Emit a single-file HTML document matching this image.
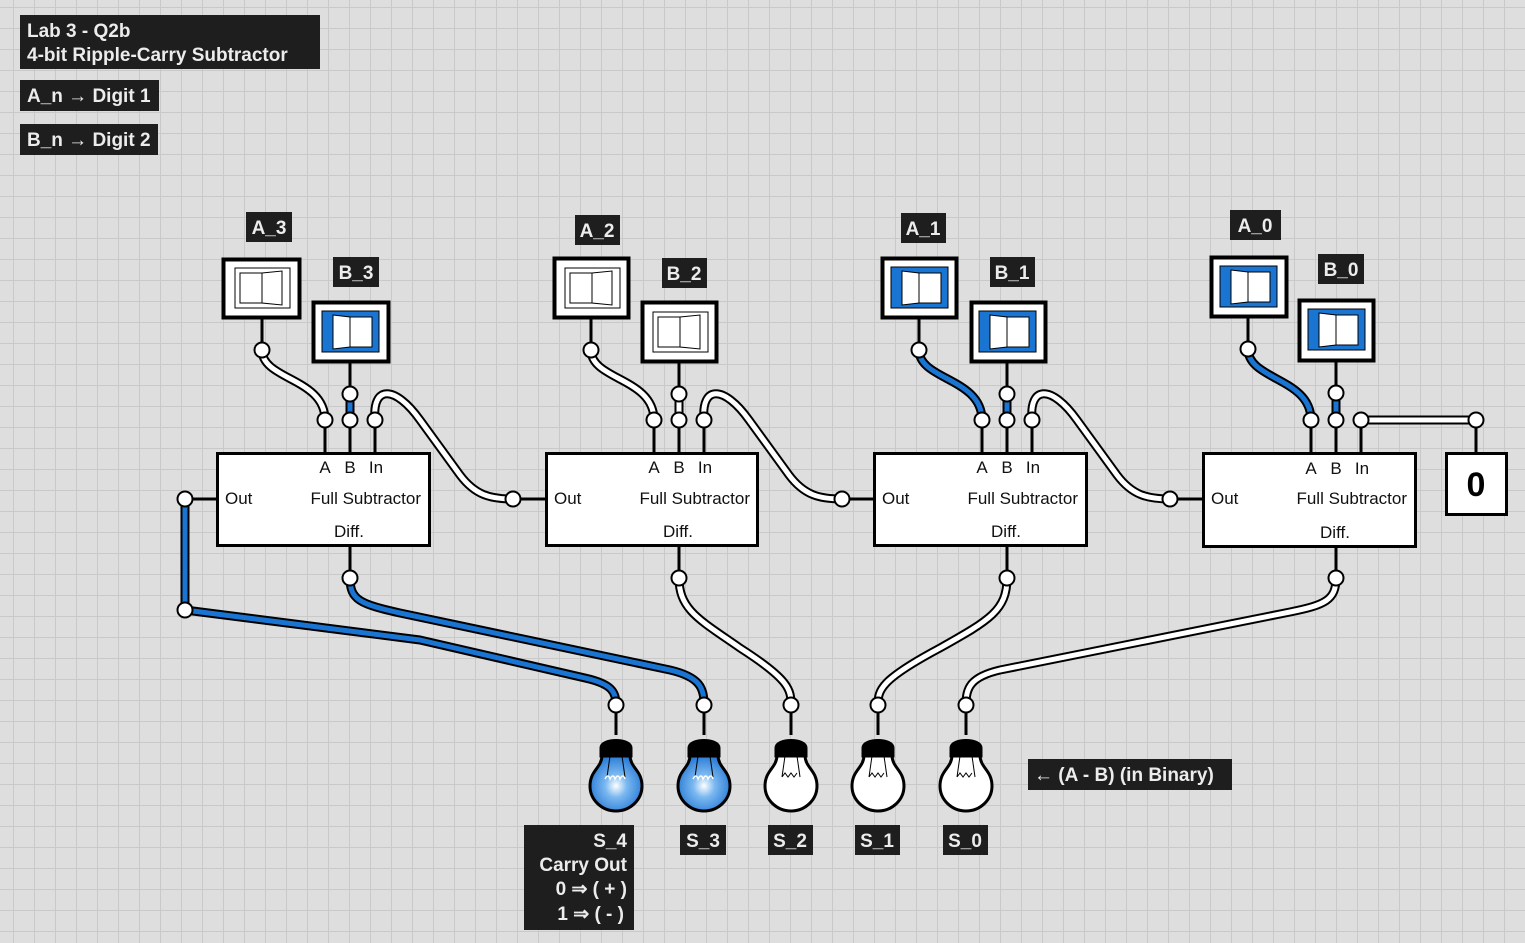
<!DOCTYPE html>
<html><head><meta charset="utf-8"><style>
html,body{margin:0;padding:0;background:#dedede;}
svg{display:block}
.lbl{font-family:"Liberation Sans",sans-serif;font-weight:bold;font-size:19px;fill:#ececec}
.bt{font-family:"Liberation Sans",sans-serif;font-size:17px;fill:#111}
</style></head><body>
<svg width="1525" height="943" viewBox="0 0 1525 943" xmlns="http://www.w3.org/2000/svg">
<defs>
<pattern id="g" x="13" y="7" width="21" height="21" patternUnits="userSpaceOnUse">
<path d="M0.5 0V21M0 0.5H21" stroke="#c9c9c9" stroke-width="1" fill="none"/>
</pattern>
<radialGradient id="bl" cx="0.5" cy="0.55" r="0.6">
<stop offset="0" stop-color="#ffffff"/><stop offset="0.35" stop-color="#7ab8f0"/><stop offset="1" stop-color="#1a6fd0"/>
</radialGradient>
</defs>
<rect width="1525" height="943" fill="#dedede"/>
<rect width="1525" height="943" fill="url(#g)"/>

<!-- top labels -->
<rect x="20" y="15" width="300" height="54" fill="#1e1e1e"/>
<text class="lbl" x="27" y="37">Lab 3 - Q2b</text>
<text class="lbl" x="27" y="61">4-bit Ripple-Carry Subtractor</text>
<rect x="20" y="80" width="139" height="31" fill="#1e1e1e"/>
<text class="lbl" x="27" y="102">A_n → Digit 1</text>
<rect x="20" y="124" width="138" height="31" fill="#1e1e1e"/>
<text class="lbl" x="27" y="146">B_n → Digit 2</text>

<!-- wires: outline then fill -->
<g fill="none" stroke-linecap="round" stroke-linejoin="round">
<g stroke="#000" stroke-width="9">
<path d="M262,350 C262,380 325,378 325,420"/>
<path d="M591,350 C591,380 654,378 654,420"/>
<path d="M919,350 C919,380 982,378 982,420"/>
<path d="M1248,349 C1248,380 1311,378 1311,420"/>
<path d="M350,394 V420"/><path d="M679,394 V420"/><path d="M1007,394 V420"/><path d="M1336,393 V420"/>
<path d="M375,420 C372,385 395,385 420,420 L460,475 C475,495 490,499 513,499"/>
<path d="M704,420 C701,385 724,385 749,420 L789,475 C804,495 819,499 842,499"/>
<path d="M1032,420 C1029,385 1052,385 1077,420 L1117,475 C1132,495 1147,499 1170,499"/>
<path d="M1361,420 H1476"/>
<path d="M185,499 V610 L420,640 L585,678 C612,684 616,692 616,705"/>
<path d="M350,578 C350,600 360,604 400,613 L670,670 C700,677 704,688 704,705"/>
<path d="M679,578 C679,610 700,620 740,648 C790,680 791,690 791,705"/>
<path d="M1007,578 C1007,610 990,620 940,648 C880,680 878,690 878,705"/>
<path d="M1336,578 C1336,600 1325,605 1290,612 L1000,670 C970,677 966,688 966,705"/>
</g>
<g stroke-width="5">
<path stroke="#fff" d="M262,350 C262,380 325,378 325,420"/>
<path stroke="#fff" d="M591,350 C591,380 654,378 654,420"/>
<path stroke="#1a74d2" d="M919,350 C919,380 982,378 982,420"/>
<path stroke="#1a74d2" d="M1248,349 C1248,380 1311,378 1311,420"/>
<path stroke="#1a74d2" d="M350,394 V420"/><path stroke="#fff" d="M679,394 V420"/><path stroke="#1a74d2" d="M1007,394 V420"/><path stroke="#1a74d2" d="M1336,393 V420"/>
<path stroke="#fff" d="M375,420 C372,385 395,385 420,420 L460,475 C475,495 490,499 513,499"/>
<path stroke="#fff" d="M704,420 C701,385 724,385 749,420 L789,475 C804,495 819,499 842,499"/>
<path stroke="#fff" d="M1032,420 C1029,385 1052,385 1077,420 L1117,475 C1132,495 1147,499 1170,499"/>
<path stroke="#fff" d="M1361,420 H1476"/>
<path stroke="#1a74d2" d="M185,499 V610 L420,640 L585,678 C612,684 616,692 616,705"/>
<path stroke="#1a74d2" d="M350,578 C350,600 360,604 400,613 L670,670 C700,677 704,688 704,705"/>
<path stroke="#fff" d="M679,578 C679,610 700,620 740,648 C790,680 791,690 791,705"/>
<path stroke="#fff" d="M1007,578 C1007,610 990,620 940,648 C880,680 878,690 878,705"/>
<path stroke="#fff" d="M1336,578 C1336,600 1325,605 1290,612 L1000,670 C970,677 966,688 966,705"/>
</g>
</g>

<!-- subtractor blocks -->
<g id="blocks" stroke="#000" stroke-width="3">
<path d="M262,318V350M350,362V394M591,319V350M679,362V394M919,318V350M1007,362V394M1248,317V349M1336,361V393"/>
<path d="M1476,420V453"/>
<path d="M325,420V453M350,420V453M375,420V453M185,499H217M350,546V578"/>
<path d="M654,420V453M679,420V453M704,420V453M513,499H546M679,546V578"/>
<path d="M982,420V453M1007,420V453M1032,420V453M842,499H874M1007,546V578"/>
<path d="M1311,420V453M1336,420V453M1361,420V453M1170,499H1203M1336,547V578"/>
<path d="M616,705V735M704,705V735M791,705V735M878,705V735M966,705V735"/>
<rect x="217.5" y="453.5" width="212" height="92" fill="#fff"/>
<rect x="546.5" y="453.5" width="211" height="92" fill="#fff"/>
<rect x="874.5" y="453.5" width="212" height="92" fill="#fff"/>
<rect x="1203.5" y="453.5" width="212" height="93" fill="#fff"/>
<rect x="1446.5" y="453.5" width="60" height="61" fill="#fff"/>
</g>
<text x="1476" y="496" text-anchor="middle" font-family="Liberation Sans,sans-serif" font-weight="bold" font-size="34" fill="#000">0</text>

<g class="bt">
<text x="325" y="473" text-anchor="middle">A</text><text x="350" y="473" text-anchor="middle">B</text><text x="376" y="473" text-anchor="middle">In</text>
<text x="225" y="504">Out</text><text x="421" y="504" text-anchor="end">Full Subtractor</text><text x="349" y="537" text-anchor="middle">Diff.</text>
<text x="654" y="473" text-anchor="middle">A</text><text x="679" y="473" text-anchor="middle">B</text><text x="705" y="473" text-anchor="middle">In</text>
<text x="554" y="504">Out</text><text x="750" y="504" text-anchor="end">Full Subtractor</text><text x="678" y="537" text-anchor="middle">Diff.</text>
<text x="982" y="473" text-anchor="middle">A</text><text x="1007" y="473" text-anchor="middle">B</text><text x="1033" y="473" text-anchor="middle">In</text>
<text x="882" y="504">Out</text><text x="1078" y="504" text-anchor="end">Full Subtractor</text><text x="1006" y="537" text-anchor="middle">Diff.</text>
<text x="1311" y="474" text-anchor="middle">A</text><text x="1336" y="474" text-anchor="middle">B</text><text x="1362" y="474" text-anchor="middle">In</text>
<text x="1211" y="504">Out</text><text x="1407" y="504" text-anchor="end">Full Subtractor</text><text x="1335" y="538" text-anchor="middle">Diff.</text>
</g>

<!-- pin circles -->
<g fill="#fff" stroke="#000" stroke-width="2">
<circle cx="262" cy="350" r="7.5"/><circle cx="350" cy="394" r="7.5"/>
<circle cx="591" cy="350" r="7.5"/><circle cx="679" cy="394" r="7.5"/>
<circle cx="919" cy="350" r="7.5"/><circle cx="1007" cy="394" r="7.5"/>
<circle cx="1248" cy="349" r="7.5"/><circle cx="1336" cy="393" r="7.5"/>
<circle cx="325" cy="420" r="7.5"/><circle cx="350" cy="420" r="7.5"/><circle cx="375" cy="420" r="7.5"/>
<circle cx="654" cy="420" r="7.5"/><circle cx="679" cy="420" r="7.5"/><circle cx="704" cy="420" r="7.5"/>
<circle cx="982" cy="420" r="7.5"/><circle cx="1007" cy="420" r="7.5"/><circle cx="1032" cy="420" r="7.5"/>
<circle cx="1311" cy="420" r="7.5"/><circle cx="1336" cy="420" r="7.5"/><circle cx="1361" cy="420" r="7.5"/>
<circle cx="1476" cy="420" r="7.5"/>
<circle cx="185" cy="499" r="7.5"/><circle cx="513" cy="499" r="7.5"/><circle cx="842" cy="499" r="7.5"/><circle cx="1170" cy="499" r="7.5"/>
<circle cx="185" cy="610" r="7.5"/>
<circle cx="350" cy="578" r="7.5"/><circle cx="679" cy="578" r="7.5"/><circle cx="1007" cy="578" r="7.5"/><circle cx="1336" cy="578" r="7.5"/>
<circle cx="616" cy="705" r="7.5"/><circle cx="704" cy="705" r="7.5"/><circle cx="791" cy="705" r="7.5"/><circle cx="878" cy="705" r="7.5"/><circle cx="966" cy="705" r="7.5"/>
</g>

<!-- switches -->
<g stroke="#000">
<!-- off: A_3 -->
<rect x="223.5" y="259.5" width="76" height="58" fill="#fff" stroke-width="4"/>
<rect x="235" y="268" width="55" height="40" fill="#fff" stroke-width="1"/>
<path d="M240,273H262V303H240Z M262,273L282,271V305L262,303Z" fill="#fff" stroke-width="1"/>
<!-- off: A_2 -->
<rect x="554.5" y="258.5" width="74" height="59" fill="#fff" stroke-width="4"/>
<rect x="565" y="268" width="55" height="40" fill="#fff" stroke-width="1"/>
<path d="M570,273H592V303H570Z M592,273L612,271V305L592,303Z" fill="#fff" stroke-width="1"/>
<!-- off: B_2 -->
<rect x="642.5" y="302.5" width="74" height="59" fill="#fff" stroke-width="4"/>
<rect x="653" y="312" width="55" height="40" fill="#fff" stroke-width="1"/>
<path d="M658,317H680V347H658Z M680,317L700,315V349L680,347Z" fill="#fff" stroke-width="1"/>
<!-- on: B_3 -->
<rect x="313.5" y="302.5" width="75" height="59" fill="#fff" stroke-width="4"/>
<rect x="322" y="311" width="57" height="41" fill="#1a74d2" stroke-width="1"/>
<path d="M333,315L350,317V347L333,349Z M350,317H372V347H350Z" fill="#fff" stroke-width="1"/>
<!-- on: A_1 -->
<rect x="882.5" y="258.5" width="74" height="59" fill="#fff" stroke-width="4"/>
<rect x="891" y="267" width="57" height="41" fill="#1a74d2" stroke-width="1"/>
<path d="M902,271L919,273V303L902,305Z M919,273H941V303H919Z" fill="#fff" stroke-width="1"/>
<!-- on: B_1 -->
<rect x="971.5" y="302.5" width="74" height="59" fill="#fff" stroke-width="4"/>
<rect x="979" y="311" width="57" height="41" fill="#1a74d2" stroke-width="1"/>
<path d="M990,315L1007,317V347L990,349Z M1007,317H1029V347H1007Z" fill="#fff" stroke-width="1"/>
<!-- on: A_0 -->
<rect x="1211.5" y="257.5" width="75" height="59" fill="#fff" stroke-width="4"/>
<rect x="1220" y="266" width="57" height="41" fill="#1a74d2" stroke-width="1"/>
<path d="M1231,270L1248,272V302L1231,304Z M1248,272H1270V302H1248Z" fill="#fff" stroke-width="1"/>
<!-- on: B_0 -->
<rect x="1299.5" y="300.5" width="74" height="60" fill="#fff" stroke-width="4"/>
<rect x="1308" y="309" width="57" height="41" fill="#1a74d2" stroke-width="1"/>
<path d="M1319,313L1336,315V345L1319,347Z M1336,315H1358V345H1336Z" fill="#fff" stroke-width="1"/>
</g>

<!-- switch labels -->
<g>
<rect x="246" y="212" width="46" height="30" fill="#1e1e1e"/><text class="lbl" x="269" y="234" text-anchor="middle">A_3</text>
<rect x="333" y="257" width="46" height="30" fill="#1e1e1e"/><text class="lbl" x="356" y="279" text-anchor="middle">B_3</text>
<rect x="575" y="215" width="45" height="30" fill="#1e1e1e"/><text class="lbl" x="597" y="237" text-anchor="middle">A_2</text>
<rect x="662" y="258" width="45" height="30" fill="#1e1e1e"/><text class="lbl" x="684" y="280" text-anchor="middle">B_2</text>
<rect x="901" y="213" width="45" height="30" fill="#1e1e1e"/><text class="lbl" x="923" y="235" text-anchor="middle">A_1</text>
<rect x="990" y="257" width="45" height="30" fill="#1e1e1e"/><text class="lbl" x="1012" y="279" text-anchor="middle">B_1</text>
<rect x="1230" y="210" width="51" height="30" fill="#1e1e1e"/><text class="lbl" x="1255" y="232" text-anchor="middle">A_0</text>
<rect x="1318" y="254" width="46" height="30" fill="#1e1e1e"/><text class="lbl" x="1341" y="276" text-anchor="middle">B_0</text>
</g>

<!-- bulbs -->
<g stroke="#000" stroke-width="3">
<g transform="translate(616,0)"><path d="M-14,755 C-14,768 -26,770 -26,786 C-26,800 -14,811 0,811 C14,811 26,800 26,786 C26,770 14,768 14,755Z" fill="url(#bl)"/><path d="M-15,756 V748 C-15,738 15,738 15,748 V756Z" fill="#000"/><path d="M-6,756 L-9,777 M6,756 L9,777" stroke-width="1"/><path d="M-11,779 q3,-6 5,0 q3,-6 5,0 q3,-6 5,0 q3,-6 5,0" stroke="#fff" stroke-width="1.5" fill="none"/></g>
<g transform="translate(704,0)"><path d="M-14,755 C-14,768 -26,770 -26,786 C-26,800 -14,811 0,811 C14,811 26,800 26,786 C26,770 14,768 14,755Z" fill="url(#bl)"/><path d="M-15,756 V748 C-15,738 15,738 15,748 V756Z" fill="#000"/><path d="M-6,756 L-9,777 M6,756 L9,777" stroke-width="1"/><path d="M-11,779 q3,-6 5,0 q3,-6 5,0 q3,-6 5,0 q3,-6 5,0" stroke="#fff" stroke-width="1.5" fill="none"/></g>
<g transform="translate(791,0)"><path d="M-14,755 C-14,768 -26,770 -26,786 C-26,800 -14,811 0,811 C14,811 26,800 26,786 C26,770 14,768 14,755Z" fill="#fff"/><path d="M-15,756 V748 C-15,738 15,738 15,748 V756Z" fill="#000"/><path d="M-6,756 L-9,777 M6,756 L9,777 M-9,777 l3,-4 3,4 3,-4 3,4 3,-4" stroke-width="1" fill="none"/></g>
<g transform="translate(878,0)"><path d="M-14,755 C-14,768 -26,770 -26,786 C-26,800 -14,811 0,811 C14,811 26,800 26,786 C26,770 14,768 14,755Z" fill="#fff"/><path d="M-15,756 V748 C-15,738 15,738 15,748 V756Z" fill="#000"/><path d="M-6,756 L-9,777 M6,756 L9,777 M-9,777 l3,-4 3,4 3,-4 3,4 3,-4" stroke-width="1" fill="none"/></g>
<g transform="translate(966,0)"><path d="M-14,755 C-14,768 -26,770 -26,786 C-26,800 -14,811 0,811 C14,811 26,800 26,786 C26,770 14,768 14,755Z" fill="#fff"/><path d="M-15,756 V748 C-15,738 15,738 15,748 V756Z" fill="#000"/><path d="M-6,756 L-9,777 M6,756 L9,777 M-9,777 l3,-4 3,4 3,-4 3,4 3,-4" stroke-width="1" fill="none"/></g>
</g>

<!-- output labels -->
<rect x="1028" y="759" width="204" height="31" fill="#1e1e1e"/><text class="lbl" x="1034" y="781">← (A - B) (in Binary)</text>
<rect x="680" y="825" width="46" height="30" fill="#1e1e1e"/><text class="lbl" x="703" y="847" text-anchor="middle">S_3</text>
<rect x="768" y="825" width="45" height="30" fill="#1e1e1e"/><text class="lbl" x="790" y="847" text-anchor="middle">S_2</text>
<rect x="855" y="825" width="45" height="30" fill="#1e1e1e"/><text class="lbl" x="877" y="847" text-anchor="middle">S_1</text>
<rect x="943" y="825" width="45" height="30" fill="#1e1e1e"/><text class="lbl" x="965" y="847" text-anchor="middle">S_0</text>
<rect x="524" y="825" width="110" height="105" fill="#1e1e1e"/>
<g class="lbl" text-anchor="end">
<text x="627" y="847">S_4</text>
<text x="627" y="871">Carry Out</text>
<text x="627" y="895">0 ⇒ ( + )</text>
<text x="624" y="920">1 ⇒ ( - )</text>
</g>
</svg>
</body></html>
